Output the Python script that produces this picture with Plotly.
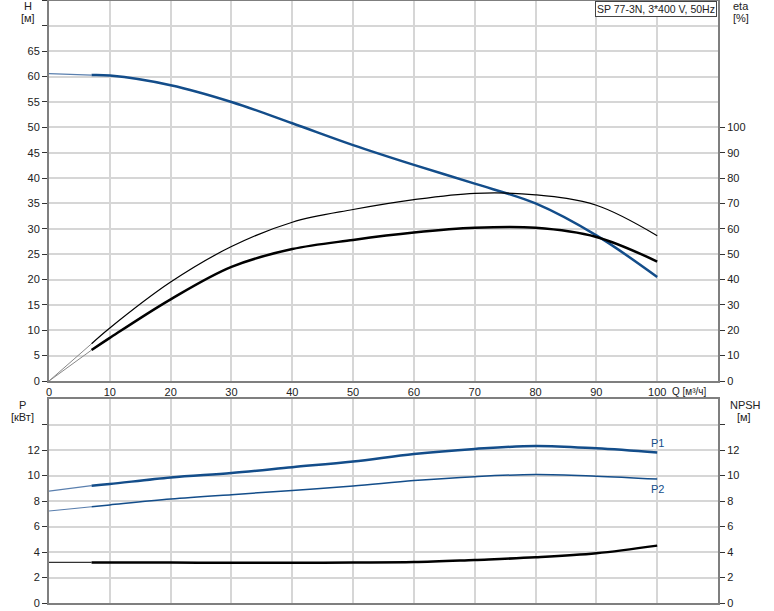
import plotly.graph_objects as go

W, Hpx = 774, 611

# ---- data (top plot) ----
q_ext = [0, 7]
head_ext = [60.6, 60.3]
eta_thin_ext = [0, 14.7]
eta_thick_ext = [0, 12.2]

q_top = [7, 10, 20, 30, 40, 50, 60, 70, 80, 90, 100]
head = [60.3, 60.2, 58.3, 55.0, 50.8, 46.5, 42.6, 38.9, 35.0, 28.7, 20.5]
eta_thin = [14.7, 20.9, 39.0, 53.0, 62.6, 67.6, 71.5, 74.0, 73.4, 69.3, 57.3]
eta_thick = [12.2, 17.0, 32.2, 45.0, 52.0, 55.6, 58.5, 60.4, 60.4, 56.8, 47.1]

# ---- data (bottom plot) ----
q_bot = [7, 10, 20, 30, 40, 50, 60, 70, 80, 90, 100]
p1 = [9.2, 9.33, 9.85, 10.2, 10.65, 11.1, 11.69, 12.08, 12.32, 12.13, 11.8]
p2 = [7.55, 7.69, 8.15, 8.5, 8.82, 9.17, 9.6, 9.91, 10.08, 9.95, 9.72]
npsh = [3.18, 3.18, 3.17, 3.15, 3.15, 3.17, 3.21, 3.38, 3.58, 3.9, 4.5]
p1_ext = [8.78, 9.2]
p2_ext = [7.21, 7.55]
npsh_ext = [3.19, 3.18]

q_ticks = list(range(0, 101, 10))
h_ticks = list(range(0, 76, 5))
h_text = [str(v) if v <= 65 else "" for v in h_ticks]
eta_ticks = list(range(0, 101, 10))
p_ticks = list(range(0, 15, 2))
p_text = [str(v) if v <= 12 else "" for v in p_ticks]

BLUE = "#134d8a"
GRID = "#d6d6d6"
AXIS = "#7f7f7f"
FONT = "Liberation Sans, Arial, sans-serif"

def px_x(x):
    return x / W

def px_y(y):
    return 1 - y / Hpx

fig = go.Figure()

# top plot
fig.add_trace(go.Scatter(x=q_ext, y=head_ext, mode="lines", line=dict(color="#5a7fae", width=1.2), xaxis="x", yaxis="y"))
fig.add_trace(go.Scatter(x=q_top, y=head, mode="lines", line=dict(color=BLUE, width=2.5, shape="spline"), xaxis="x", yaxis="y"))
fig.add_trace(go.Scatter(x=q_ext, y=eta_thin_ext, mode="lines", line=dict(color="#888888", width=1), xaxis="x", yaxis="y2"))
fig.add_trace(go.Scatter(x=q_ext, y=eta_thick_ext, mode="lines", line=dict(color="#888888", width=1), xaxis="x", yaxis="y2"))
fig.add_trace(go.Scatter(x=q_top, y=eta_thin, mode="lines", line=dict(color="#000000", width=1.2, shape="spline"), xaxis="x", yaxis="y2"))
fig.add_trace(go.Scatter(x=q_top, y=eta_thick, mode="lines", line=dict(color="#000000", width=2.5, shape="spline"), xaxis="x", yaxis="y2"))

# bottom plot
fig.add_trace(go.Scatter(x=q_ext, y=p1_ext, mode="lines", line=dict(color="#5a7fae", width=1.3), xaxis="x2", yaxis="y3"))
fig.add_trace(go.Scatter(x=q_ext, y=p2_ext, mode="lines", line=dict(color="#5a7fae", width=1.1), xaxis="x2", yaxis="y3"))
fig.add_trace(go.Scatter(x=q_ext, y=npsh_ext, mode="lines", line=dict(color="#333333", width=1.2), xaxis="x2", yaxis="y4"))
fig.add_trace(go.Scatter(x=q_bot, y=p1, mode="lines", line=dict(color=BLUE, width=2.5, shape="spline"), xaxis="x2", yaxis="y3"))
fig.add_trace(go.Scatter(x=q_bot, y=p2, mode="lines", line=dict(color=BLUE, width=1.5, shape="spline"), xaxis="x2", yaxis="y3"))
fig.add_trace(go.Scatter(x=q_bot, y=npsh, mode="lines", line=dict(color="#000000", width=2.5, shape="spline"), xaxis="x2", yaxis="y4"))

xdom = [px_x(49), px_x(718)]
top_dom = [px_y(381), px_y(0.5)]
bot_dom = [px_y(603), px_y(399)]

common_x = dict(range=[0, 110], tickvals=q_ticks, showgrid=True, gridcolor=GRID, gridwidth=2,
                showline=True, linecolor=AXIS, linewidth=2, mirror=True, zeroline=False, automargin=False,
                ticks="", tickfont=dict(size=11, color="#222", family=FONT))

ycommon = dict(showline=True, linecolor=AXIS, linewidth=2, zeroline=False, automargin=False,
               ticks="outside", ticklen=5, tickcolor="#333", tickwidth=1,
               tickfont=dict(size=11, color="#222"))

fig.update_layout(
    width=W, height=Hpx,
    margin=dict(l=0, r=0, t=0, b=0, autoexpand=False),
    paper_bgcolor="white", plot_bgcolor="white",
    showlegend=False,
    hovermode=False,
    font=dict(family=FONT, size=11, color="#222"),
    xaxis=dict(domain=xdom, anchor="y", **common_x),
    xaxis2=dict(domain=xdom, anchor="y3", matches="x", showticklabels=False, **common_x),
    yaxis=dict(domain=top_dom, anchor="x", range=[0, 75], tickvals=h_ticks, ticktext=h_text,
               showgrid=True, gridcolor=GRID, gridwidth=2, mirror=True, **ycommon),
    yaxis2=dict(overlaying="y", side="right", anchor="x", range=[0, 150], tickvals=eta_ticks,
                showgrid=False, **ycommon),
    yaxis3=dict(domain=bot_dom, anchor="x2", range=[0, 16], tickvals=p_ticks, ticktext=p_text,
                showgrid=True, gridcolor=GRID, gridwidth=2, mirror=True, **ycommon),
    yaxis4=dict(overlaying="y3", side="right", anchor="x2", range=[0, 16], tickvals=p_ticks, ticktext=p_text,
                showgrid=False, **ycommon),
)

def ann(text, x, y, xanchor="center", yanchor="middle", size=11, **kw):
    fig.add_annotation(text=text, x=px_x(x), y=px_y(y), xref="paper", yref="paper",
                       xanchor=xanchor, yanchor=yanchor, showarrow=False,
                       font=dict(size=size, color="#222", family=FONT), **kw)

ann("H", 28, 6)
ann("[м]", 28, 18)
ann("eta", 741, 6)
ann("[%]", 741, 18)
ann("P", 22, 405)
ann("[кВт]", 22, 417)
ann("NPSH", 745, 405)
ann("[м]", 744, 417)
ann("Q [м³/ч]", 689, 391, size=10)
fig.add_annotation(text="SP 77-3N, 3*400 V, 50Hz", x=px_x(717), y=px_y(0.5), xref="paper", yref="paper",
                   xanchor="right", yanchor="top", showarrow=False, bgcolor="white",
                   bordercolor="#444", borderwidth=1, borderpad=1,
                   font=dict(size=10.5, color="#222", family=FONT))

fig.add_annotation(text="P1", x=100, y=11.9, xref="x2", yref="y3", xanchor="center", yanchor="bottom",
                   showarrow=False, font=dict(size=11, color=BLUE, family=FONT))
fig.add_annotation(text="P2", x=100, y=9.55, xref="x2", yref="y3", xanchor="center", yanchor="top",
                   showarrow=False, font=dict(size=11, color=BLUE, family=FONT))

fig.write_html("out.html",
               config={"displayModeBar": False, "staticPlot": True},
               post_script="document.body.style.margin='0';document.body.style.padding='0';document.body.style.overflow='hidden';")
